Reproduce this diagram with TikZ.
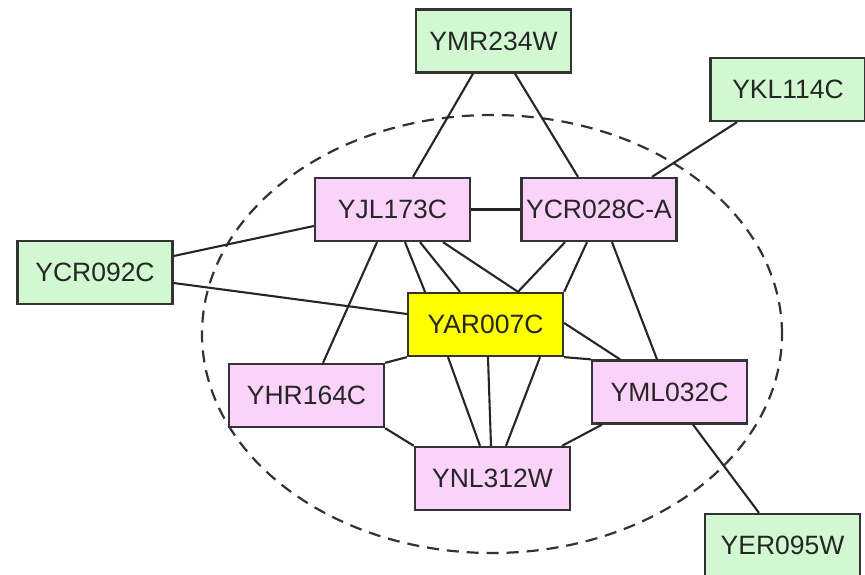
\documentclass[tikz,border=0pt]{standalone}
\usepackage{fontspec}
\setmainfont{Liberation Sans}
\usepackage{tikz}
\usepackage{xcolor}
\definecolor{genegreen}{RGB}{210,248,210}
\definecolor{genepink}{RGB}{250,210,250}
\definecolor{geneyellow}{RGB}{255,255,0}

\begin{document}
\begin{tikzpicture}[x=1pt, y=-1pt,
  gene/.style={rectangle, draw=black!80, line width=2.3pt, minimum width=155pt, minimum height=63pt, inner sep=0pt, font=\fontsize{26.5}{30}\selectfont, text=black!85},
  partner/.style={gene, fill=genegreen},
  core/.style={gene, fill=genepink},
  hub/.style={gene, fill=geneyellow},
  link/.style={line width=2.1pt, draw=black!85}]
\useasboundingbox (0,0) rectangle (865,575);
\draw[line width=2.2pt, black!80, dash pattern=on 12pt off 8pt] (492,334) ellipse [x radius=290pt, y radius=219pt];

\node[partner] (YMR234W) at (493.5,41) {YMR234W};
\node[partner] (YKL114C) at (788,89.5) {YKL114C};
\node[core] (YJL173C) at (392.5,209.5) {YJL173C};
\node[core] (YCR028CA) at (599,209.5) {YCR028C-A};
\node[partner] (YCR092C) at (95,272.5) {YCR092C};
\node[hub] (YAR007C) at (485.5,324.5) {YAR007C};
\node[core] (YHR164C) at (306.5,395.5) {YHR164C};
\node[core] (YML032C) at (669.5,392) {YML032C};
\node[core] (YNL312W) at (492.5,478.5) {YNL312W};
\node[partner] (YER095W) at (782.5,545.5) {YER095W};

\draw[link] ([xshift=-20.5pt]YMR234W.south) -- ([xshift=20.5pt]YJL173C.north);
\draw[link] ([xshift=21.5pt]YMR234W.south) -- ([xshift=-21pt]YCR028CA.north);
\draw[link] ([xshift=-51pt]YKL114C.south) -- ([xshift=53pt]YCR028CA.north);
\draw[link] (YJL173C.east) -- (YCR028CA.west);
\draw[link] ([yshift=16.5pt]YCR092C.east) -- ([yshift=-16.5pt]YJL173C.west);
\draw[link] ([yshift=-10.5pt]YCR092C.east) -- ([yshift=10.5pt]YAR007C.west);
\draw[link] ([xshift=-15.5pt]YJL173C.south) -- ([xshift=16.5pt]YHR164C.north);
\draw[link] ([xshift=12.5pt]YJL173C.south) -- ([xshift=-60.5pt]YAR007C.north);
\draw[link] ([xshift=27.5pt]YJL173C.south) -- ([xshift=-25.5pt]YAR007C.north);
\draw[link] ([xshift=50.5pt]YJL173C.south) -- ([xshift=32.5pt]YAR007C.north);
\draw[link] ([xshift=-34pt]YCR028CA.south) -- ([xshift=32.5pt]YAR007C.north);
\draw[link] ([xshift=-12pt]YCR028CA.south) -- (YAR007C.north east);
\draw[link] ([xshift=13pt]YCR028CA.south) -- ([xshift=-12.5pt]YML032C.north);
\draw[link] ([yshift=1.5pt]YAR007C.east) -- ([xshift=-49.5pt]YML032C.north);
\draw[link] (YAR007C.south east) -- (YML032C.north west);
\draw[link] (YHR164C.north east) -- (YAR007C.south west);
\draw[link] (YHR164C.south east) -- (YNL312W.north west);
\draw[link] ([xshift=-37.5pt]YAR007C.south) -- ([xshift=-12.5pt]YNL312W.north);
\draw[link] ([xshift=2.5pt]YAR007C.south) -- ([xshift=-1.5pt]YNL312W.north);
\draw[link] ([xshift=54.5pt]YAR007C.south) -- ([xshift=13.5pt]YNL312W.north);
\draw[link] ([xshift=-67.5pt]YML032C.south) -- ([xshift=69.5pt]YNL312W.north);
\draw[link] ([xshift=23.5pt]YML032C.south) -- ([xshift=-23.5pt]YER095W.north);
\end{tikzpicture}
\end{document}
